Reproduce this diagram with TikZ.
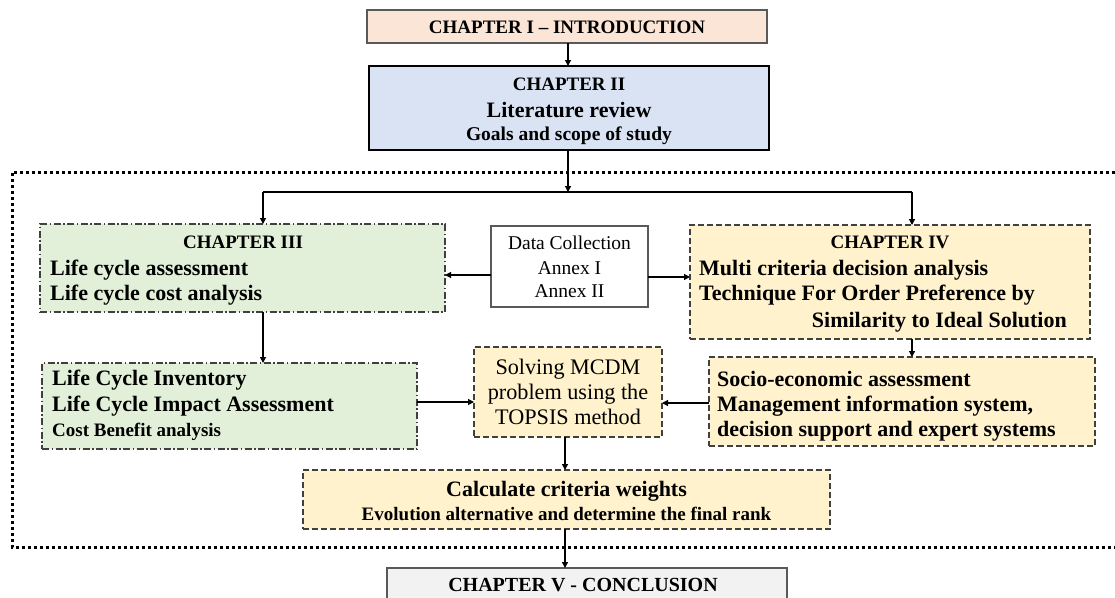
\documentclass[tikz,border=0pt]{standalone}
\usepackage{fontspec}
\setmainfont{Liberation Serif}
\usetikzlibrary{arrows.meta}
\definecolor{peach}{HTML}{FBE5D6}
\definecolor{lblue}{HTML}{DAE3F3}
\definecolor{lgreen}{HTML}{E2F0D9}
\definecolor{lyellow}{HTML}{FFF2CC}
\definecolor{lgray}{HTML}{F2F2F2}
\definecolor{dgray}{HTML}{595959}
\definecolor{bgray}{HTML}{404040}
\tikzset{
  box/.style={draw, inner sep=0pt, outer sep=0pt, line width=1.1pt},
  greenbox/.style={box, fill=lgreen, draw=bgray, dash pattern=on 7pt off 2.5pt on 1.5pt off 2.5pt},
  yellowbox/.style={box, fill=lyellow, draw=bgray, dash pattern=on 6pt off 3pt},
  arr/.style={line width=1.2pt, -{Triangle[length=6pt,width=6pt]}},
  conn/.style={line width=1.2pt},
  txthd/.style={font=\fontsize{19}{22}\selectfont\bfseries, inner sep=0pt},
  txtbig/.style={font=\fontsize{22}{25}\selectfont\bfseries, inner sep=0pt},
  txtreg/.style={font=\fontsize{19.5}{22}\selectfont, inner sep=0pt},
  txtreg2/.style={font=\fontsize{22.2}{25}\selectfont, inner sep=0pt},
  frameline/.style={line width=3pt, dash pattern=on 3pt off 3pt},
}
\begin{document}
\begin{tikzpicture}[x=1pt,y=-1pt]
\useasboundingbox (0,0) rectangle (1115,597);

% outer dotted frame
\draw[frameline] (1115,172) -- (12,172) -- (12,547) -- (1115,547);

% boxes
\node[box, fill=peach, draw=dgray, line width=1.8pt, minimum width=400pt, minimum height=33pt] (ch1) at (567,26.5) {};
\node[box, fill=lblue, draw=black, minimum width=400pt, minimum height=84pt] (ch2) at (569,108) {};
\node[greenbox, minimum width=405pt, minimum height=88pt] (ch3) at (242.5,268) {};
\node[box, fill=white, draw=dgray, minimum width=157pt, minimum height=81pt] (dc) at (569.5,266.5) {};
\node[yellowbox, minimum width=400pt, minimum height=114pt] (ch4) at (890,282) {};
\node[greenbox, minimum width=375pt, minimum height=86pt] (lci) at (229.5,406) {};
\node[yellowbox, minimum width=188pt, minimum height=90pt] (topsis) at (568,392) {};
\node[yellowbox, minimum width=386pt, minimum height=89pt] (socio) at (902,401.5) {};
\node[yellowbox, minimum width=527pt, minimum height=59pt] (calc) at (566.5,499.5) {};
\node[box, fill=lgray, draw=dgray, line width=1.5pt, minimum width=400pt, minimum height=50pt] (ch5) at (587,593) {};

% texts
\node[txthd, anchor=base] (t1) at (567,33.3) {CHAPTER I – INTRODUCTION};
\node[txthd, anchor=base] (t2a) at (569,90.7) {CHAPTER II};
\node[txtbig, anchor=base] (t2b) at (569,117.7) {Literature review};
\node[font=\fontsize{19.5}{22}\selectfont\bfseries, inner sep=0pt, anchor=base] (t2c) at (569,140) {Goals and scope of study};

\node[txthd, anchor=base] (t3a) at (243,248) {CHAPTER III};
\node[txtbig, anchor=base west] (t3b) at (50,275) {Life cycle assessment};
\node[txtbig, anchor=base west] (t3c) at (50,300) {Life cycle cost analysis};

\node[txtreg, anchor=base] (tda) at (569.5,249) {Data Collection};
\node[txtreg, anchor=base] (tdb) at (569.5,274) {Annex I};
\node[txtreg, anchor=base] (tdc) at (569.5,297) {Annex II};

\node[txthd, anchor=base] (t4a) at (890,248) {CHAPTER IV};
\node[txtbig, anchor=base west] (t4b) at (699,275) {Multi criteria decision analysis};
\node[txtbig, anchor=base west] (t4c) at (699,300) {Technique For Order Preference by};
\node[txtbig, anchor=base east] (t4d) at (1067,327) {Similarity to Ideal Solution};

\node[txtbig, anchor=base west] (tla) at (52,385) {Life Cycle Inventory};
\node[txtbig, anchor=base west] (tlb) at (52,411) {Life Cycle Impact Assessment};
\node[txthd, anchor=base west] (tlc) at (52,436) {Cost Benefit analysis};

\node[txtreg2, anchor=base] (tta) at (568,374) {Solving MCDM};
\node[txtreg2, anchor=base] (ttb) at (568,399) {problem using the};
\node[txtreg2, anchor=base] (ttc) at (568,424) {TOPSIS method};

\node[txtbig, anchor=base west] (tsa) at (717,386) {Socio-economic assessment};
\node[txtbig, anchor=base west] (tsb) at (717,411) {Management information system,};
\node[txtbig, anchor=base west] (tsc) at (717,436) {decision support and expert systems};

\node[txtbig, anchor=base] (tca) at (566.5,496) {Calculate criteria weights};
\node[txthd, anchor=base] (tcb) at (566.5,520) {Evolution alternative and determine the final rank};

\node[font=\fontsize{20}{23}\selectfont\bfseries, inner sep=0pt, anchor=base] (t5) at (583,591) {CHAPTER V - CONCLUSION};

% connectors
\coordinate (jM) at (568,192);
\coordinate (jL) at (263,192);
\coordinate (jR) at (912,192);
\draw[arr] (ch1.south -| jM) -- (ch2.north -| jM);
\draw[arr] (ch2.south -| jM) -- (jM);
\draw[conn] (jL) -- (jR);
\draw[arr] (jL) -- (ch3.north -| jL);
\draw[arr] (jR) -- (ch4.north -| jR);
\path ([yshift=-8.5pt]dc.west) coordinate (dcw);
\path ([yshift=-10.5pt]dc.east) coordinate (dce);
\draw[arr] (dcw) -- (dcw -| ch3.east);
\draw[arr] (dce) -- (dce -| ch4.west);
\draw[arr] (ch3.south -| jL) -- (lci.north -| jL);
\draw[arr] (ch4.south -| jR) -- (socio.north -| jR);
\path ([yshift=4pt]lci.east) coordinate (lce);
\path ([yshift=-1.5pt]socio.west) coordinate (sow);
\draw[arr] (lce) -- (lce -| topsis.west);
\draw[arr] (sow) -- (sow -| topsis.east);
\coordinate (jC) at (565,0);
\draw[arr] (topsis.south -| jC) -- (calc.north -| jC);
\draw[arr] (calc.south -| jC) -- (ch5.north -| jC);
\end{tikzpicture}
\end{document}
